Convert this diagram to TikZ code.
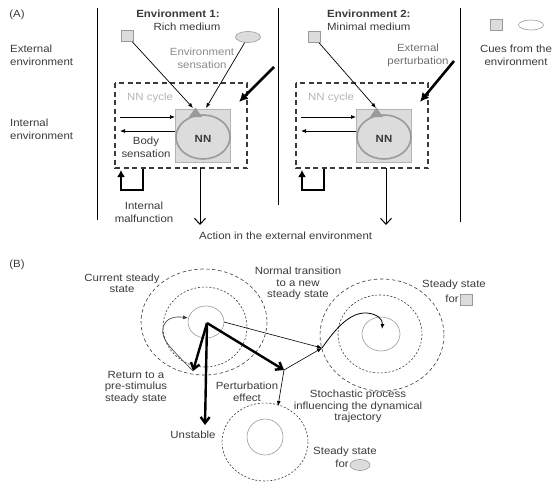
\documentclass[tikz,border=0pt]{standalone}
\usepackage{fontspec}
\setmainfont[FakeStretch=1.1]{Liberation Sans}
\usetikzlibrary{arrows.meta,shapes.geometric}
\definecolor{txt}{HTML}{3A3A3A}
\definecolor{softtxt}{HTML}{8A8A8A}
\definecolor{palegray}{HTML}{B4B4B4}
\definecolor{fillgray}{HTML}{DCDCDC}
\definecolor{rimgray}{HTML}{9A9A9A}
\begin{document}
\begin{tikzpicture}[x=1pt,y=-1pt,
  lbl/.style={font=\fontsize{10.4}{13}\selectfont, text=txt, align=center, inner sep=0pt},
  lblb/.style={font=\fontsize{10.4}{11.5}\selectfont, text=txt, align=center, inner sep=0pt},
  divider/.style={line width=0.9pt, black},
  cuesq/.style={draw=rimgray, fill=fillgray, line width=0.6pt, minimum width=12pt, minimum height=11pt, inner sep=0pt},
  cueell/.style={draw=rimgray, fill=fillgray, line width=0.6pt, ellipse, minimum width=25pt, minimum height=11pt, inner sep=0pt},
  cycbox/.style={draw=txt, dashed, dash pattern=on 5pt off 3.5pt, line width=1.1pt},
  nnbox/.style={draw=palegray, fill=fillgray, line width=0.7pt},
  thinarr/.style={-{Latex[length=5pt,width=4pt]}, line width=0.7pt, black},
  heavyarr/.style={-{Latex[length=9pt,width=9pt]}, line width=2.6pt, black},
  loopArr/.style={-{Latex[length=7pt,width=8pt]}, line width=2.4pt, black},
  actarr/.style={-{Straight Barb[length=6pt,width=11pt]}, line width=1pt, black},
  bigarr/.style={-{Straight Barb[length=6pt,width=9pt]}, line width=2.4pt, black},
  outerc/.style={draw=txt, dash pattern=on 3.5pt off 2.5pt, line width=0.6pt},
  midc/.style={draw=txt, dash pattern=on 2pt off 1.8pt, line width=0.6pt},
  innerc/.style={draw=rimgray, line width=0.6pt}]
\useasboundingbox (0,0) rectangle (554,482);

% ---------- part (A) ----------
\node[lbl] (tagA) at (17,15) {(A)};
\node[lbl, anchor=west, align=left] (extenv) at (10,55) {External\\environment};
\node[lbl, anchor=west, align=left] (intenv) at (10,129.5) {Internal\\environment};

\draw[divider] (97,8) -- (97,220);
\draw[divider] (278,8) -- (278,205);
\draw[divider] (460,8) -- (460,222);

% environment 1
\node[lbl, font=\fontsize{10.4}{13}\selectfont\bfseries] (env1) at (178,14) {Environment 1:};
\node[lbl] (rich) at (187,27) {Rich medium};
\node[cuesq] (sqA) at (127,36) {};
\node[cueell] (ellA) at (248,37) {};
\node[lbl, text=softtxt] (envsens) at (202,58.5) {Environment\\sensation};
\draw[cycbox] (115,83) rectangle (247,168);
\node[lbl, text=palegray, anchor=west] (cyc1) at (127,98) {NN cycle};
\draw[nnbox] (175,109) rectangle (230,162);
\draw[draw=rimgray, fill=fillgray, line width=1.6pt] (203,137) ellipse [x radius=27, y radius=22];
\fill[rimgray] (189,117) -- (202,117) -- (195.5,107.5) -- cycle;
\node[lbl, font=\fontsize{10.4}{13}\selectfont\bfseries] (nn1) at (203,139) {NN};
\coordinate (inA1) at (193,108);
\coordinate (inA2) at (206,108);
\draw[thinarr] (sqA) -- (inA1);
\draw[thinarr] (ellA) -- (inA2);
\coordinate (bodyL1) at (120,117); \coordinate (bodyR1) at (175,117);
\coordinate (bodyL2) at (120,131); \coordinate (bodyR2) at (175,131);
\draw[thinarr] (bodyL1) -- (bodyR1);
\draw[thinarr] (bodyR2) -- (bodyL2);
\node[lbl] (bodysens) at (146,147) {Body\\sensation};
\coordinate (pertS1) at (274,67); \coordinate (pertE1) at (239,102);
\draw[heavyarr] (pertS1) -- (pertE1);
\coordinate (malS1) at (143,169); \coordinate (malE1) at (121,170);
\draw[loopArr] (malS1) -- (143,190) -- (121,190) -- (malE1);
\node[lbl] (malf) at (144,212) {Internal\\malfunction};
\coordinate (actS1) at (200,168); \coordinate (actE1) at (200,225);
\draw[actarr] (actS1) -- (actE1);

% environment 2
\node[lbl, font=\fontsize{10.4}{13}\selectfont\bfseries, anchor=west] (env2) at (327,14) {Environment 2:};
\node[lbl, anchor=west] (minimal) at (327,27) {Minimal medium};
\node[cuesq] (sqB) at (314,37) {};
\node[lbl, text=softtxt!80!black] (extpert) at (418,55) {External\\perturbation};
\draw[cycbox] (296,83) rectangle (428,168);
\node[lbl, text=palegray, anchor=west] (cyc2) at (308,98) {NN cycle};
\draw[nnbox] (356,109) rectangle (411,162);
\draw[draw=rimgray, fill=fillgray, line width=1.6pt] (384,137) ellipse [x radius=27, y radius=22];
\fill[rimgray] (370,117) -- (383,117) -- (376.5,107.5) -- cycle;
\node[lbl, font=\fontsize{10.4}{13}\selectfont\bfseries] (nn2) at (384,139) {NN};
\coordinate (inB1) at (376,108);
\draw[thinarr] (sqB) -- (inB1);
\coordinate (bodyL3) at (301,117); \coordinate (bodyR3) at (356,117);
\coordinate (bodyL4) at (301,131); \coordinate (bodyR4) at (356,131);
\draw[thinarr] (bodyL3) -- (bodyR3);
\draw[thinarr] (bodyR4) -- (bodyL4);
\coordinate (pertS2) at (454,61); \coordinate (pertE2) at (420,102);
\draw[heavyarr] (pertS2) -- (pertE2);
\coordinate (malS2) at (324,169); \coordinate (malE2) at (302,170);
\draw[loopArr] (malS2) -- (324,190) -- (302,190) -- (malE2);
\coordinate (actS2) at (386,168); \coordinate (actE2) at (386,225);
\draw[actarr] (actS2) -- (actE2);
\node[lbl, anchor=west] (action) at (199,236) {Action in the external environment};

% legend of cues
\node[cuesq] (legsq) at (496,25) {};
\draw[draw=rimgray, fill=white, line width=0.6pt] (531,25) ellipse [x radius=12.5, y radius=5];
\node[lbl] (cues) at (516,55) {Cues from the\\environment};

% ---------- part (B) ----------
\node[lbl] (tagB) at (17,265) {(B)};

% current steady state
\draw[outerc] (204,322) ellipse [x radius=63, y radius=53];
\draw[midc] (205,327) ellipse [x radius=42, y radius=40];
\draw[innerc] (206,322) ellipse [x radius=18, y radius=16];
% steady state for the square cue
\draw[outerc] (382,335) ellipse [x radius=62, y radius=56];
\draw[midc] (380,334) ellipse [x radius=42, y radius=39];
\draw[innerc] (381,334) ellipse [x radius=19, y radius=17];
% steady state for the ellipse cue
\draw[midc] (265,442) ellipse [x radius=43, y radius=39];
\draw[innerc] (265,437) ellipse [x radius=18, y radius=18];

\coordinate (O) at (207,323);
\coordinate (Oedge) at (224,322);
\coordinate (R) at (193,371);
\coordinate (U) at (205,425);
\coordinate (P) at (284,370);
\coordinate (Q) at (322,348);
\coordinate (S) at (278,406);
\coordinate (T) at (382,329);
\coordinate (Rback) at (188,318);

\draw[bigarr] (O) -- (R);
\draw[bigarr] (O) -- (U);
\draw[bigarr] (O) -- (P);
\draw[thinarr, line width=0.6pt] (Oedge) -- (Q);
\draw[thinarr, line width=0.6pt] (P) -- (Q);
\draw[thinarr, line width=0.6pt] (P) -- (S);
\draw[thinarr, line width=0.8pt] (Q) .. controls (336,328) and (350,312) .. (367,313) .. controls (377,314) and (383,319) .. (T);
\draw[thinarr, line width=0.6pt, draw=txt] (R) .. controls (175,352) and (160,340) .. (163,328) .. controls (165,318) and (175,316) .. (Rback);

\node[lblb] (cur) at (122,283.5) {Current steady\\state};
\node[lblb] (normal) at (298,283.5) {Normal transition\\to a new\\steady state};
\node[lblb] (ssq) at (454,285) {Steady state};
\node[lblb, anchor=east] (forsq) at (459,299) {for};
\node[cuesq] (sqC) at (466,300) {};
\node[lblb] (ret) at (136,387) {Return to a\\pre-stimulus\\steady state};
\node[lblb] (perteff) at (247,392) {Perturbation\\effect};
\node[lblb] (unst) at (193,435) {Unstable};
\node[lblb] (stoch) at (358,406.5) {Stochastic process\\influencing the dynamical\\trajectory};
\node[lblb] (sell) at (345,452) {Steady state};
\node[lblb, anchor=east] (forell) at (349,464) {for};
\draw[draw=rimgray, fill=fillgray, line width=0.6pt] (360,465) ellipse [x radius=10, y radius=5.5];
\end{tikzpicture}
\end{document}
